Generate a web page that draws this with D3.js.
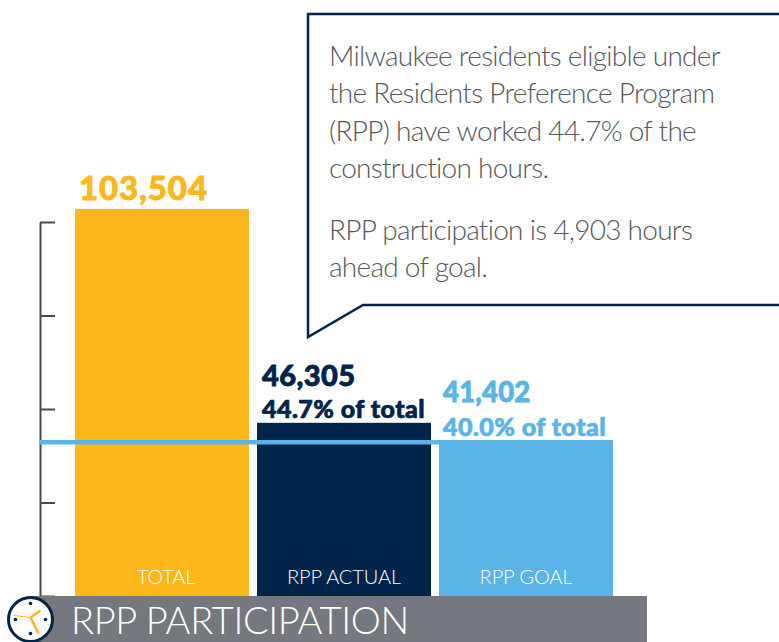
<!DOCTYPE html>
<html>
<head>
<meta charset="utf-8">
<script src="https://cdn.jsdelivr.net/npm/d3@7"></script>
<style>
    html, body { margin: 0; padding: 0; background: #fff; }
    svg { display: block; }
    text { font-family: Lato, "Open Sans", sans-serif; }
</style>
</head>
<body>
<div id="chart"></div>
<script>
const categories = ["TOTAL", "RPP ACTUAL", "RPP GOAL"];
const values = [103504, 46305, 41402];
const shares = [null, "44.7% of total", "40.0% of total"];
const tickValues = [0, 25000, 50000, 75000, 100000];
const goalValue = 41402;
const title = "RPP PARTICIPATION";
const calloutParagraphs = [
    ["Milwaukee residents eligible under", "the Residents Preference Program", "(RPP) have worked 44.7% of the", "construction hours."],
    ["RPP participation is 4,903 hours", "ahead of goal."],
];

const navy = "#00244a", gold = "#fdb71a", sky = "#5ab4e8", grey = "#75797f";
const width = 779, height = 642;

const svg = d3.select("#chart").append("svg").attr("width", width).attr("height", height);

const x = d3.scaleBand().domain(categories).range([75, 613]).paddingInner(8 / 182);
const y = d3.scaleLinear().domain([0, 100000]).range([596, 222]);
const colors = d3.scaleOrdinal().domain(categories).range([gold, navy, sky]);

// axis with ticks on the inside and no labels
svg.append("g")
    .attr("transform", "translate(40,0)")
    .call(d3.axisRight(y).tickValues(tickValues).tickSize(15).tickSizeOuter(0).tickFormat(""))
    .call(g => g.selectAll("line,path").attr("stroke", "#4a4a4c").attr("stroke-width", 2));

// bars
svg.selectAll(".bar")
    .data(categories)
    .join("rect")
    .attr("class", "bar")
    .attr("x", d => x(d))
    .attr("y", (d, i) => y(values[i]))
    .attr("width", x.bandwidth())
    .attr("height", (d, i) => y(0) - y(values[i]))
    .attr("fill", d => colors(d));

// goal line
svg.append("line")
    .attr("x1", 40).attr("x2", x("RPP GOAL") + x.bandwidth())
    .attr("y1", y(goalValue) + 1.2).attr("y2", y(goalValue) + 1.2)
    .attr("stroke", sky).attr("stroke-width", 4.5);

// labels inside bars
svg.selectAll(".cat")
    .data(categories)
    .join("text")
    .attr("class", "cat")
    .attr("x", d => x(d) + x.bandwidth() / 2 + (d === "TOTAL" ? 4 : 0))
    .attr("y", 584)
    .attr("text-anchor", "middle")
    .attr("fill", "#fff")
    .attr("font-size", 20)
    .attr("font-weight", 300)
    .attr("letter-spacing", -0.1)
    .text(d => d);

// value labels
const valueOffsets = [9, 37, 39];
const valueSizes = [33, 29, 27.5];
const valueSpacing = [0.9, 0.4, 0.2];
svg.selectAll(".val")
    .data(categories)
    .join("text")
    .attr("class", "val")
    .attr("x", d => x(d) + (d === "TOTAL" ? 4 : d === "RPP ACTUAL" ? 5 : 4))
    .attr("y", (d, i) => y(values[i]) - valueOffsets[i])
    .attr("fill", d => colors(d))
    .attr("stroke", d => colors(d))
    .attr("stroke-width", 0.8)
    .attr("font-size", (d, i) => valueSizes[i])
    .attr("letter-spacing", (d, i) => valueSpacing[i])
    .attr("font-weight", 900)
    .text((d, i) => d3.format(",")(values[i]));

svg.selectAll(".share")
    .data(categories.filter((d, i) => shares[i]))
    .join("text")
    .attr("class", "share")
    .attr("x", d => x(d) + (d === "RPP ACTUAL" ? 5 : 4))
    .attr("y", d => y(values[categories.indexOf(d)]) - 5)
    .attr("fill", d => colors(d))
    .attr("stroke", d => colors(d))
    .attr("stroke-width", 0.7)
    .attr("font-size", 25)
    .attr("letter-spacing", 0.45)
    .attr("font-weight", 900)
    .text(d => shares[categories.indexOf(d)]);

// callout box
svg.append("path")
    .attr("d", d3.line()([[779, 14], [308, 14], [308, 337], [363, 305], [779, 305]]))
    .attr("fill", "#fff")
    .attr("stroke", navy)
    .attr("stroke-width", 2.5);

const calloutLines = [
    ...calloutParagraphs[0].map((t, i) => ({ t, y: 66 + i * 37.4 })),
    ...calloutParagraphs[1].map((t, i) => ({ t, y: 240 + i * 37.4 })),
];
svg.selectAll(".callout")
    .data(calloutLines)
    .join("text")
    .attr("class", "callout")
    .attr("x", 329)
    .attr("y", d => d.y)
    .attr("fill", "#55585c")
    .attr("font-size", 28)
    .attr("font-weight", 300)
    .attr("letter-spacing", -0.72)
    .text(d => d.t);

// title band
svg.append("rect").attr("x", 30).attr("y", 596).attr("width", 617).attr("height", 46).attr("fill", grey);
svg.append("text")
    .attr("x", 71).attr("y", 634)
    .attr("fill", "#fff")
    .attr("font-size", 38)
    .attr("font-weight", 300)
    .attr("letter-spacing", -0.35)
    .text(title);

// clock icon
const clock = svg.append("g").attr("transform", "translate(30.5,619.5)");
clock.append("circle").attr("r", 22).attr("fill", "#fff").attr("stroke", navy).attr("stroke-width", 3);
clock.selectAll(".dot")
    .data([[0, -16], [15, 0], [0, 14], [-15, 0]])
    .join("circle")
    .attr("class", "dot")
    .attr("cx", d => d[0]).attr("cy", d => d[1]).attr("r", 1.8)
    .attr("fill", navy);
clock.selectAll(".hand")
    .data([[10, -9, 2.5], [8, 14, 2.5], [-17, -4, 1]])
    .join("line")
    .attr("class", "hand")
    .attr("x1", 0).attr("y1", -2)
    .attr("x2", d => d[0]).attr("y2", d => d[1])
    .attr("stroke", gold)
    .attr("stroke-width", d => d[2]);
</script>
</body>
</html>
